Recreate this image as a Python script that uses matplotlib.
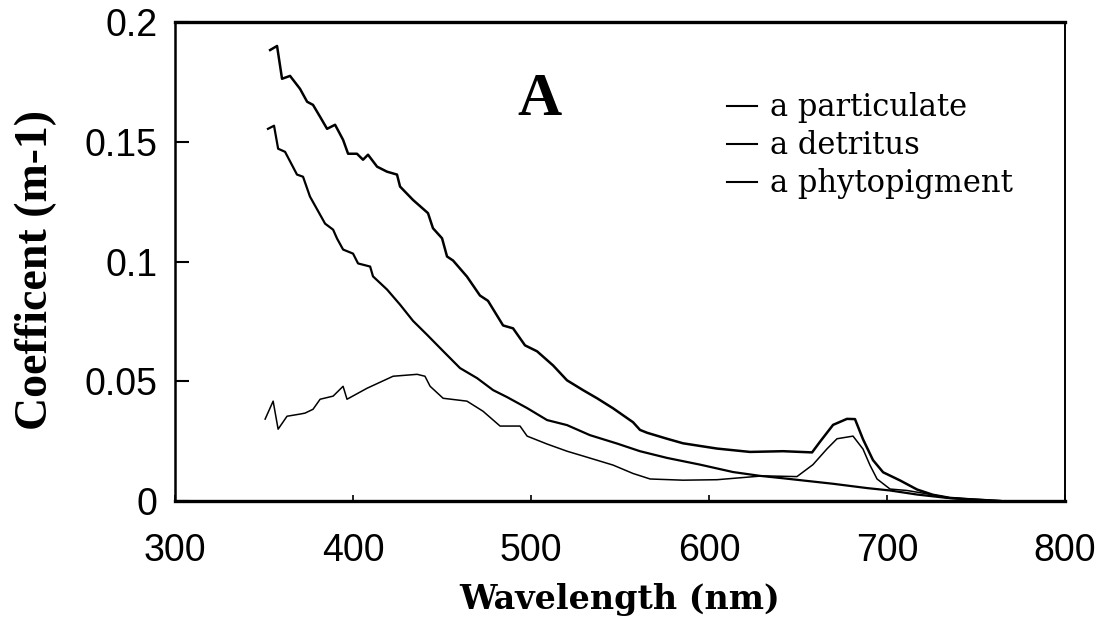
import matplotlib
matplotlib.use("Agg")
import matplotlib.pyplot as plt
from matplotlib.lines import Line2D

# wavelength (nm) / absorption coefficient (m-1)
wl_part = [353.4, 357.3, 360.1, 364.6, 370.2, 374.2, 377.5, 381.5, 385.4, 389.9,
           394.4, 397.2, 402.2, 405.6, 408.4, 413.5, 419.1, 424.7, 426.4, 433.7,
           442.1, 444.9, 450.0, 452.8, 456.2, 464.0, 471.3, 475.8, 484.3, 489.9,
           496.6, 503.4, 512.4, 520.2, 529.2, 537.1, 546.1, 557.3, 561.2, 565.2,
           576.4, 585.4, 594.9, 604.5, 623.0, 641.6, 657.9, 662.4, 669.7, 677.5,
           682.0, 686.5, 692.1, 697.8, 707.3, 716.9, 725.8, 735.4, 744.9, 763.5]
a_part = [0.1883, 0.1900, 0.1763, 0.1775, 0.1721, 0.1667, 0.1654, 0.1604, 0.1554, 0.1571,
          0.1508, 0.1450, 0.1450, 0.1425, 0.1446, 0.1396, 0.1375, 0.1363, 0.1313, 0.1257,
          0.1202, 0.1139, 0.1097, 0.1021, 0.1004, 0.0937, 0.0858, 0.0836, 0.0733, 0.0721,
          0.0650, 0.0625, 0.0566, 0.0504, 0.0463, 0.0429, 0.0387, 0.0329, 0.0297, 0.0285,
          0.0260, 0.0241, 0.0230, 0.0219, 0.0205, 0.0208, 0.0203, 0.0248, 0.0318, 0.0343,
          0.0342, 0.0258, 0.0171, 0.0120, 0.0086, 0.0048, 0.0026, 0.0013, 0.0008, 0.0]

wl_detr = [352.2, 355.6, 357.9, 361.8, 368.5, 371.9, 375.8, 384.3, 388.8, 391.0,
           394.4, 400.0, 402.8, 409.6, 411.2, 419.1, 426.4, 433.7, 441.6, 450.6,
           460.1, 469.7, 478.7, 486.5, 497.8, 509.0, 520.2, 533.1, 548.3, 561.2,
           576.4, 594.9, 613.5, 628.7, 641.6, 669.7, 688.8, 701.7, 716.9, 733.7,
           744.9, 763.5]
a_detr = [0.1554, 0.1567, 0.1471, 0.1458, 0.1363, 0.1354, 0.1271, 0.1158, 0.1133, 0.1096,
          0.1050, 0.1033, 0.0992, 0.0979, 0.0938, 0.0883, 0.0820, 0.0752, 0.0694, 0.0626,
          0.0555, 0.0513, 0.0463, 0.0434, 0.0388, 0.0338, 0.0317, 0.0275, 0.0240, 0.0208,
          0.0180, 0.0152, 0.0121, 0.0105, 0.0095, 0.0072, 0.0054, 0.0044, 0.0027, 0.0013,
          0.0008, 0.0]

wl_phyto = [350.6, 355.1, 357.9, 362.9, 370.2, 373.0, 377.5, 381.5, 388.8, 394.4,
            396.6, 407.9, 422.5, 436.0, 440.4, 443.3, 450.6, 464.0, 473.0, 482.6,
            493.8, 497.8, 509.0, 520.2, 529.2, 546.1, 557.3, 566.9, 585.4, 604.5,
            617.4, 630.3, 649.4, 658.4, 666.3, 671.9, 680.9, 686.5, 690.4, 694.4,
            701.7, 711.2, 725.8, 735.4, 744.9]
a_phyto = [0.0342, 0.0417, 0.0300, 0.0354, 0.0363, 0.0367, 0.0383, 0.0425, 0.0438, 0.0479,
           0.0425, 0.0471, 0.0521, 0.0529, 0.0521, 0.0479, 0.0429, 0.0417, 0.0375, 0.0313,
           0.0313, 0.0271, 0.0238, 0.0208, 0.0188, 0.0150, 0.0115, 0.0092, 0.0087, 0.0089,
           0.0097, 0.0105, 0.0102, 0.0152, 0.0218, 0.0260, 0.0271, 0.0217, 0.0150, 0.0092,
           0.0050, 0.0044, 0.0026, 0.0013, 0.0008]

labels = ["a particulate", "a detritus", "a phytopigment"]
xticks = [300, 400, 500, 600, 700, 800]
yticks = [0, 0.05, 0.1, 0.15, 0.2]
yticklabels = ["0", "0.05", "0.1", "0.15", "0.2"]


def main():
    fig = plt.figure(figsize=(11.08, 6.38), dpi=100)
    ax = fig.add_axes([0.158, 0.2147, 0.8032, 0.7508])

    ax.plot(wl_part, a_part, color="black", lw=1.8)
    ax.plot(wl_detr, a_detr, color="black", lw=1.6)
    ax.plot(wl_phyto, a_phyto, color="black", lw=1.1)

    ax.set_xlim(300, 800)
    ax.set_ylim(0, 0.2)
    ax.set_xticks(xticks)
    ax.set_yticks(yticks)
    ax.set_yticklabels(yticklabels)

    for s in ["top", "bottom"]:
        ax.spines[s].set_linewidth(2.4)
    ax.spines["left"].set_linewidth(1.8)
    ax.spines["right"].set_linewidth(1.4)

    ax.tick_params(axis="y", direction="in", length=10, width=1.5, pad=12.5,
                   labelsize=27)
    ax.tick_params(axis="x", direction="in", length=4, width=1.2, pad=23,
                   labelsize=27)
    for t in ax.get_xticklabels() + ax.get_yticklabels():
        t.set_fontfamily("Liberation Sans")

    ax.set_xlabel("Wavelength (nm)", family="DejaVu Serif", weight="bold",
                  fontsize=24)
    ax.xaxis.set_label_coords(0.5, -0.172)
    ax.set_ylabel("Coefficent (m-1)", family="Liberation Serif", weight="bold",
                  fontsize=33)
    ax.yaxis.set_label_coords(-0.1326, 0.482)

    ax.text(0.41, 0.806, "A", transform=ax.transAxes, ha="center", va="baseline",
            family="Liberation Serif", weight="bold", fontsize=44)

    handles = [Line2D([], [], color="black", lw=1.5) for _ in labels]
    ax.legend(handles, labels, loc="upper left", bbox_to_anchor=(0.62, 0.853),
              frameon=False, prop={"family": "DejaVu Serif", "size": 22},
              handlelength=1.0, handletextpad=0.42, labelspacing=0.23,
              borderpad=0, borderaxespad=0)

    fig.savefig("out.png", dpi=100)


if __name__ == "__main__":
    main()
